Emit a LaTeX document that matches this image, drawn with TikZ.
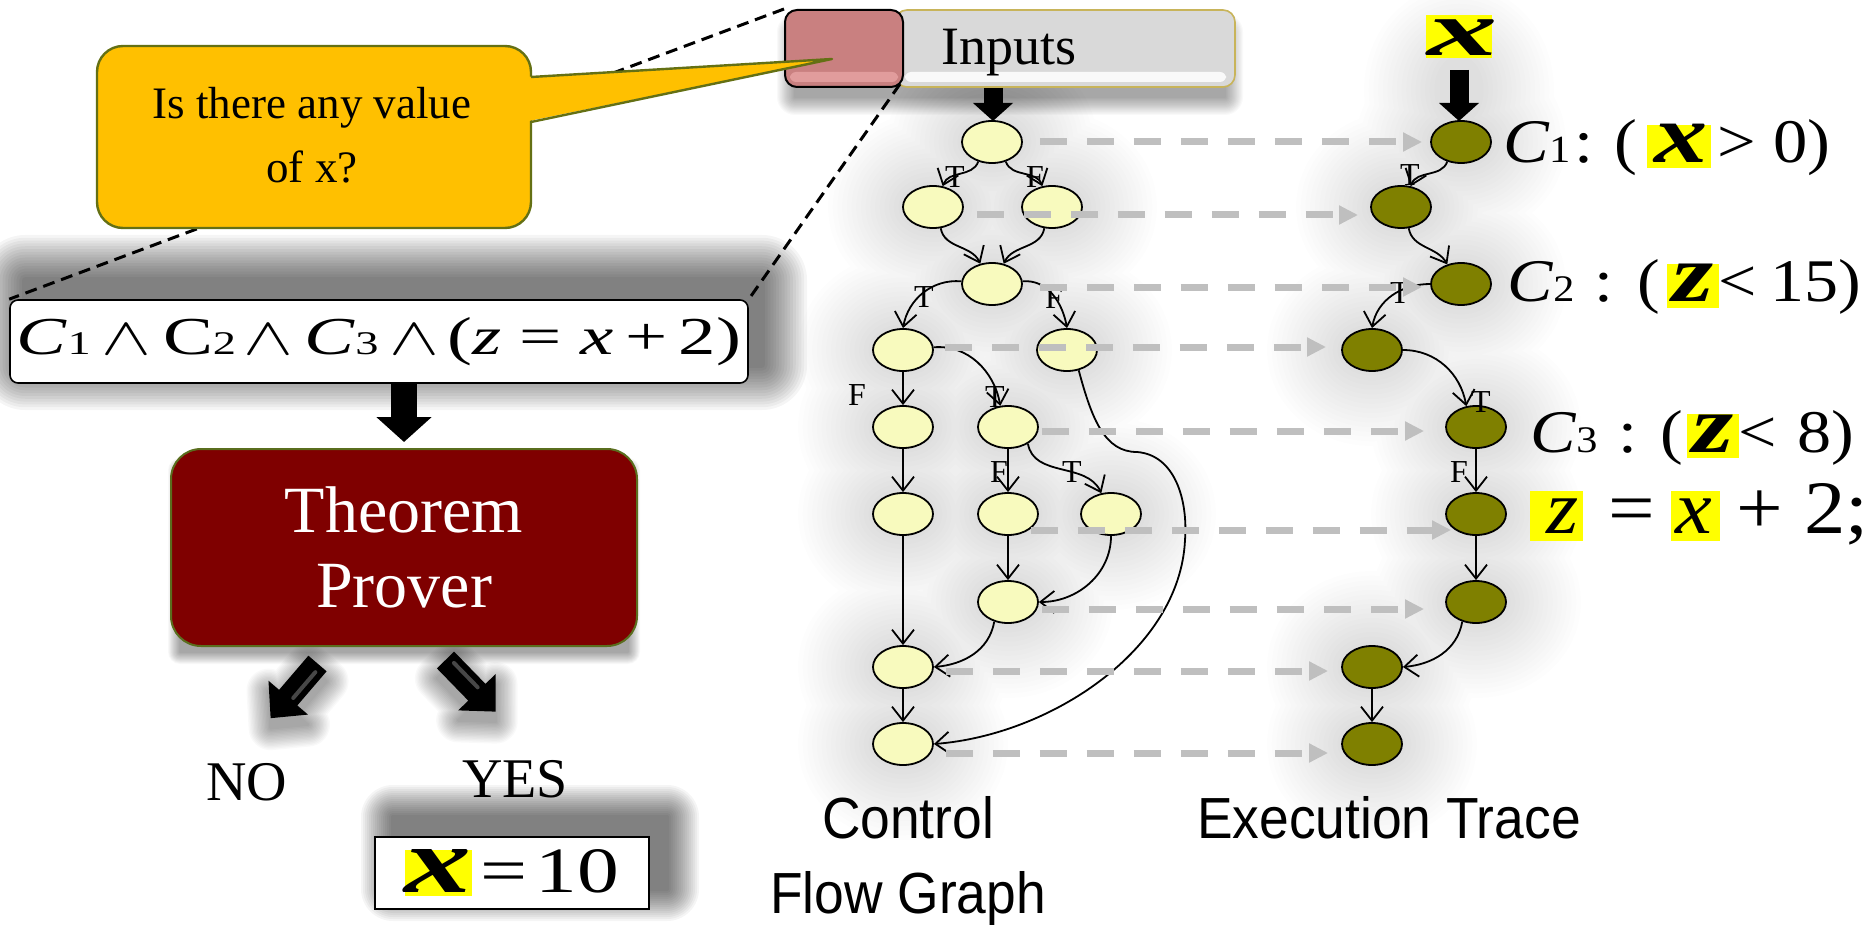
\documentclass[tikz,border=0pt]{standalone}
\usepackage{fontspec}
\setmainfont{Liberation Serif}
\newfontfamily\labelsans[FakeStretch=0.92]{Liberation Sans}
\usepackage{graphicx}
\usetikzlibrary{shapes.geometric,arrows.meta}
\pgfdeclarelayer{background}
\pgfsetlayers{background,main}

\definecolor{cfgfill}{RGB}{248,250,190}
\definecolor{etfill}{RGB}{127,128,0}
\definecolor{calloutfill}{RGB}{255,192,0}
\definecolor{calloutedge}{RGB}{100,112,20}
\definecolor{provfill}{RGB}{127,0,0}
\definecolor{provedge}{RGB}{90,110,30}
\definecolor{tracegray}{RGB}{191,191,191}
\definecolor{hly}{RGB}{255,255,0}
\definecolor{barfill}{RGB}{217,217,217}
\definecolor{baredge}{RGB}{200,180,90}
\definecolor{keyfill}{RGB}{201,128,128}
\definecolor{keylight}{RGB}{232,164,164}

% yellow marker behind a glyph: #1 depth, #2 rule height, #3 content
\newcommand\hlbox[3]{{\setlength{\fboxsep}{0pt}\colorbox{hly}{\rule[-#1]{0pt}{#2}#3}}}
\newcommand\bx{\scalebox{1.55}[1.35]{\bfseries\itshape x}}
\newcommand\bz{\scalebox{1.55}[1.35]{\bfseries\itshape z}}
\newcommand\idx[1]{\scalebox{.62}{#1}}

% soft shadow: stacked translucent copies, each widened by a stroke
\newcommand\softshade[3]{%
  \foreach \k in {1,...,16}{%
    \pgfmathsetmacro\lw{#1*\k/16}%
    \begin{scope}[transparency group, opacity=#2]
      \filldraw[black, line width=\lw pt, line join=round] #3;
    \end{scope}}}

\begin{document}
\begin{tikzpicture}[x=0.5pt, y=0.5pt,
  cfgnode/.style={ellipse, draw=black, line width=0.9pt, fill=cfgfill,
                  minimum width=30pt, minimum height=21pt, inner sep=0pt},
  etnode/.style={cfgnode, fill=etfill},
  flow/.style={-{Straight Barb[length=7pt,width=11pt]}, line width=0.9pt},
  branch/.style={font=\fontsize{16}{16}\selectfont, inner sep=0pt},
  trace/.style={draw=tracegray, line width=3.5pt, dash pattern=on 13.5pt off 10pt,
                -{Triangle[length=9.5pt,width=9pt]}},
  feed/.style={line width=9.5pt, -{Triangle[length=9pt,width=19.5pt]}},
  zoomline/.style={line width=1.5pt, dash pattern=on 6pt off 3.5pt},
  sans/.style={font=\labelsans\fontsize{29}{37.5}\selectfont},
]
\useasboundingbox (0,0) rectangle (1873,-925);

% ---------- input bar ----------
\node[draw=baredge, line width=0.8pt, fill=barfill, rounded corners=6pt,
      minimum width=170pt, minimum height=38.5pt, inner sep=0] (bar) at (1065,-48.5) {};
\fill[white, opacity=.85, rounded corners=3pt] (905,-72) rectangle (1226,-82);
\node[draw=black, line width=1pt, fill=keyfill, rounded corners=6pt,
      minimum width=59pt, minimum height=38.5pt, inner sep=0] (key) at (844,-48.5) {};
\fill[keylight, opacity=.8, rounded corners=3pt] (790,-72) rectangle (898,-82);
\node[anchor=base, inner sep=0, font=\fontsize{27}{27}\selectfont] (inlabel) at (1009,-65) {Inputs};

% ---------- path condition ----------
\node[draw=black, line width=0.8pt, fill=white, rounded corners=4pt,
      minimum width=369pt, minimum height=41.5pt, inner sep=0] (conj) at (379,-341.5)
  {\resizebox{362pt}{18.5pt}{\textit{C}\idx{1}\hspace{.15em}$\wedge$\hspace{.15em}C\idx{2}\hspace{.1em}$\wedge$\hspace{.15em}\textit{C}\idx{3}\hspace{.15em}$\wedge$\hspace{.1em}(\textit{z}\hspace{.25em}=\hspace{.25em}\textit{x}\hspace{.15em}+\hspace{.15em}2)}};

% zoom lines from the input key to the condition
\draw[zoomline] (key.north west) -- (conj.north west);
\draw[zoomline] ([shift={(-2pt,2pt)}]key.south east) -- (conj.north east);

% ---------- question callout ----------
\filldraw[fill=calloutfill, draw=calloutedge, line width=1.2pt, rounded corners=13pt]
  (97,-46) rectangle (531,-228);
\fill[calloutfill] (524,-77) -- (832,-59) -- (524,-122) -- cycle;
\draw[calloutedge, line width=1.2pt, line join=round] (531,-77) -- (832,-59) -- (531,-122);
\node[align=center, inner sep=0, font=\fontsize{22.5}{32}\selectfont] (question) at (312,-135)
  {Is there any value\\of x?};

% ---------- theorem prover ----------
\node[draw=provedge, line width=1pt, fill=provfill, rounded corners=15pt,
      minimum width=233pt, minimum height=98.5pt, inner sep=0, text=white, align=center,
      font=\fontsize{33}{37.5}\selectfont] (prover) at (404,-547.5) {Theorem\\Prover};
\draw[line width=13pt, -{Triangle[length=12.5pt,width=27pt]}]
  (prover.north |- conj.south) -- ([yshift=3pt]prover.north);

% verdict arrows
\begin{scope}[shift={(317.5,-663.5)}, rotate=229.4]
  \fill[black] (0,12) -- (45,12) -- (45,26) -- (72,0) -- (45,-26) -- (45,-12) -- (0,-12) -- cycle;
  \draw[black!72, line width=2pt, line cap=round] (8,4) -- (42,4);
\end{scope}
\begin{scope}[shift={(445.5,-660)}, rotate=-45.8]
  \fill[black] (0,12) -- (45,12) -- (45,26) -- (72,0) -- (45,-26) -- (45,-12) -- (0,-12) -- cycle;
  \draw[black!72, line width=2pt, line cap=round] (8,4) -- (42,4);
\end{scope}
\node[anchor=base, inner sep=0, font=\fontsize{28}{28}\selectfont] (no) at (247,-800) {NO};
\node[anchor=base, inner sep=0, font=\fontsize{28}{28}\selectfont] (yes) at (515,-797) {YES};

\node[draw=black, line width=0.8pt, fill=white, minimum width=137pt, minimum height=36pt,
      inner sep=0] (answer) at (512,-873)
  {\resizebox{107pt}{21.5pt}{\hlbox{.06em}{.64em}{\scalebox{1.6}[1.45]{\bfseries\itshape x}}\hspace{.1em}=\hspace{.1em}10}\hspace{12pt}};

% ---------- control flow graph ----------
\draw[feed] (bar.south -| 993,0) -- (993,-121);
\node[cfgnode] (n1)  at (992,-142) {};
\node[cfgnode] (n2L) at (933,-207) {};
\node[cfgnode] (n2R) at (1052,-207) {};
\node[cfgnode] (n3)  at (992,-284) {};
\node[cfgnode] (n4L) at (903,-350) {};
\node[cfgnode] (n4R) at (1067,-350) {};
\node[cfgnode] (n5L) at (903,-427) {};
\node[cfgnode] (n5M) at (1008,-427) {};
\node[cfgnode] (n6L) at (903,-514) {};
\node[cfgnode] (n6M) at (1008,-514) {};
\node[cfgnode] (n6R) at (1111,-514) {};
\node[cfgnode] (n7M) at (1008,-602) {};
\node[cfgnode] (n8L) at (903,-667) {};
\node[cfgnode] (n9L) at (903,-744) {};

\draw[flow] (n1.235) to[out=-110,in=70] (n2L.65);
\draw[flow] (n1.305) to[out=-70,in=110] (n2R.115);
\draw[flow] (n2L.290) to[out=-80,in=115] (n3.120);
\draw[flow] (n2R.250) to[out=-100,in=65] (n3.60);
\draw[flow] (n3.175) to[out=175,in=80] (n4L.north);
\draw[flow] (n3.5) to[out=5,in=100] (n4R.north);
\draw[flow] (n4L.south) -- (n5L.north);
\draw[flow] (n4L.5) to[out=5,in=100] (n5M.110);
\draw[flow] (n5L.south) -- (n6L.north);
\draw[flow] (n5M.south) -- (n6M.north);
\draw[flow] (n5M.-40) to[out=-80,in=115] (n6R.115);
\draw[flow] (n6L.south) -- (n8L.north);
\draw[flow] (n6M.south) -- (n7M.north);
\draw[flow] (n6R.south) to[out=-90,in=0] (n7M.east);
\draw[flow] (n7M.235) to[out=-100,in=5] (n8L.east);
\draw[flow] (n8L.south) -- (n9L.north);
\draw[flow] (n4R.-60) .. controls (1092,-420) and (1105,-452) .. (1137,-452)
            .. controls (1175,-455) and (1188,-500) .. (1185,-540)
            .. controls (1180,-650) and (1050,-735) .. (n9L.east);

\node[branch] (b1) at (955,-177) {T};
\node[branch] (b2) at (1035,-177) {F};
\node[branch] (b3) at (924,-297) {T};
\node[branch] (b4) at (1054,-298) {F};
\node[branch] (b5) at (857,-395) {F};
\node[branch] (b6) at (995,-397) {T};
\node[branch] (b7) at (999,-472) {F};
\node[branch] (b8) at (1072,-472) {T};

% ---------- execution trace ----------
\fill[hly] (1426,-15) rectangle (1492,-58);
\node[anchor=base, inner sep=0] (xin) at (1463,-56)
  {\scalebox{1.8}[1]{\fontsize{39}{39}\selectfont\bfseries\itshape x}};
\coordinate (xfeed) at (1459,-70);
\draw[feed] (xfeed) -- (xfeed |- 0,-121);

\node[etnode] (e1) at (1461,-142) {};
\node[etnode] (e2) at (1401,-207) {};
\node[etnode] (e3) at (1461,-284) {};
\node[etnode] (e4) at (1372,-350) {};
\node[etnode] (e5) at (1476,-427) {};
\node[etnode] (e6) at (1476,-514) {};
\node[etnode] (e7) at (1476,-602) {};
\node[etnode] (e8) at (1372,-667) {};
\node[etnode] (e9) at (1372,-744) {};

\draw[flow] (e1.235) to[out=-110,in=70] (e2.65);
\draw[flow] (e2.290) to[out=-80,in=120] (e3.125);
\draw[flow] (e3.180) to[out=180,in=80] (e4.north);
\draw[flow] (e4.0) to[out=0,in=100] (e5.115);
\draw[flow] (e5.south) -- (e6.north);
\draw[flow] (e6.south) -- (e7.north);
\draw[flow] (e7.235) to[out=-100,in=5] (e8.east);
\draw[flow] (e8.south) -- (e9.north);

\node[branch] (t1) at (1410,-175) {T};
\node[branch] (t2) at (1400,-293) {T};
\node[branch] (t3) at (1481,-402) {T};
\node[branch] (t4) at (1459,-472) {F};

% trace correspondence
\draw[trace] ([xshift=8.5pt]n1.east) -- ([xshift=-4pt]e1.west);
\draw[trace] ([xshift=6.5pt,yshift=-4pt]n2L.east) -- ([xshift=-6pt,yshift=-4pt]e2.west);
\draw[trace] ([xshift=8.5pt,yshift=-1.5pt]n3.east) -- ([xshift=-4pt,yshift=-1.5pt]e3.west);
\draw[trace] ([xshift=5.5pt,yshift=1.5pt]n4L.east) -- ([xshift=-7.5pt,yshift=1.5pt]e4.west);
\draw[trace] ([xshift=1.5pt,yshift=-2pt]n5M.east) -- ([xshift=-10.5pt,yshift=-2pt]e5.west);
\draw[trace] ([xshift=-4pt,yshift=-8pt]n6M.east) -- ([xshift=3pt,yshift=-8pt]e6.west);
\draw[trace] ([xshift=1.5pt,yshift=-3.5pt]n7M.east) -- ([xshift=-10.5pt,yshift=-3.5pt]e7.west);
\draw[trace] ([xshift=6pt,yshift=-2pt]n8L.east) -- ([xshift=-6.5pt,yshift=-2pt]e8.west);
\draw[trace] ([xshift=6pt,yshift=-4.5pt]n9L.east) -- ([xshift=-6.5pt,yshift=-4.5pt]e9.west);

% branch conditions
\node[anchor=base west, inner sep=0] (c1) at (1503,-163)
  {\resizebox{163.5pt}{21.5pt}{\textit{C}\idx{1}\hspace{.05em}:\hspace{.3em}(\hspace{.15em}\hlbox{.08em}{.7em}{\hspace{.1em}\bx\hspace{.05em}}\hspace{.1em}>\hspace{.25em}0)}};
\node[anchor=base west, inner sep=0] (c2) at (1507,-302)
  {\resizebox{177pt}{21pt}{\textit{C}\idx{2}\hspace{.3em}:\hspace{.35em}(\hspace{.1em}\hlbox{.1em}{.72em}{\hspace{.08em}\bz\hspace{.08em}}<\hspace{.2em}15)}};
\node[anchor=base west, inner sep=0] (c3) at (1530,-452)
  {\resizebox{162pt}{21pt}{\textit{C}\idx{3}\hspace{.3em}:\hspace{.35em}(\hspace{.05em}\hlbox{.1em}{.72em}{\hspace{.08em}\bz\hspace{.08em}}<\hspace{.3em}8)}};
\node[anchor=base west, inner sep=0] (assign) at (1530,-533)
  {\resizebox{169pt}{25pt}{\hlbox{.1em}{.65em}{\hspace{.2em}\textit{z}\hspace{.05em}}\hspace{.3em}=\hspace{.2em}\hlbox{.1em}{.65em}{\hspace{.05em}\textit{x}\hspace{.1em}}\hspace{.2em}+\hspace{.25em}2;}};

% titles
\node[sans, align=center, anchor=north, inner sep=0] (cfgtitle) at (908,-796) {Control\\Flow Graph};
\node[sans, anchor=base, inner sep=0] (ettitle) at (1389,-838) {Execution Trace};

% ---------- shadows and haze ----------
\begin{pgfonlayer}{background}
  \fill[white] (0,0) rectangle (1873,-925);
  \softshade{45}{0.04}{(25,-280) rectangle (762,-365)}
  \softshade{32}{0.04}{(393,-817) rectangle (667,-889)}
  \softshade{12}{0.025}{(180,-470) rectangle (628,-652)}
  \softshade{18}{0.025}{(795,-32) rectangle (1225,-97)}
  \begin{scope}[shift={(317.5,-673.5)}, rotate=229.4]
    \softshade{22}{0.022}{(0,12) -- (45,12) -- (45,26) -- (72,0) -- (45,-26) -- (45,-12) -- (0,-12) -- cycle}
  \end{scope}
  \begin{scope}[shift={(445.5,-670)}, rotate=-45.8]
    \softshade{22}{0.022}{(0,12) -- (45,12) -- (45,26) -- (72,0) -- (45,-26) -- (45,-12) -- (0,-12) -- cycle}
  \end{scope}
  \softshade{75}{0.0095}{(n1) ellipse [x radius=15pt, y radius=10.5pt]
    (n2L) ellipse [x radius=15pt, y radius=10.5pt] (n2R) ellipse [x radius=15pt, y radius=10.5pt]
    (n3) ellipse [x radius=15pt, y radius=10.5pt] (n4L) ellipse [x radius=15pt, y radius=10.5pt]
    (n4R) ellipse [x radius=15pt, y radius=10.5pt] (n5L) ellipse [x radius=15pt, y radius=10.5pt]
    (n5M) ellipse [x radius=15pt, y radius=10.5pt] (n6L) ellipse [x radius=15pt, y radius=10.5pt]
    (n6M) ellipse [x radius=15pt, y radius=10.5pt] (n6R) ellipse [x radius=15pt, y radius=10.5pt]
    (n7M) ellipse [x radius=15pt, y radius=10.5pt] (n8L) ellipse [x radius=15pt, y radius=10.5pt]
    (n9L) ellipse [x radius=15pt, y radius=10.5pt]}
  \softshade{75}{0.0095}{(e1) ellipse [x radius=15pt, y radius=10.5pt]
    (e2) ellipse [x radius=15pt, y radius=10.5pt] (e3) ellipse [x radius=15pt, y radius=10.5pt]
    (e4) ellipse [x radius=15pt, y radius=10.5pt] (e5) ellipse [x radius=15pt, y radius=10.5pt]
    (e6) ellipse [x radius=15pt, y radius=10.5pt] (e7) ellipse [x radius=15pt, y radius=10.5pt]
    (e8) ellipse [x radius=15pt, y radius=10.5pt] (e9) ellipse [x radius=15pt, y radius=10.5pt]
    (1459,-90) ellipse [x radius=10pt, y radius=15pt]}
\end{pgfonlayer}
\end{tikzpicture}
\end{document}
